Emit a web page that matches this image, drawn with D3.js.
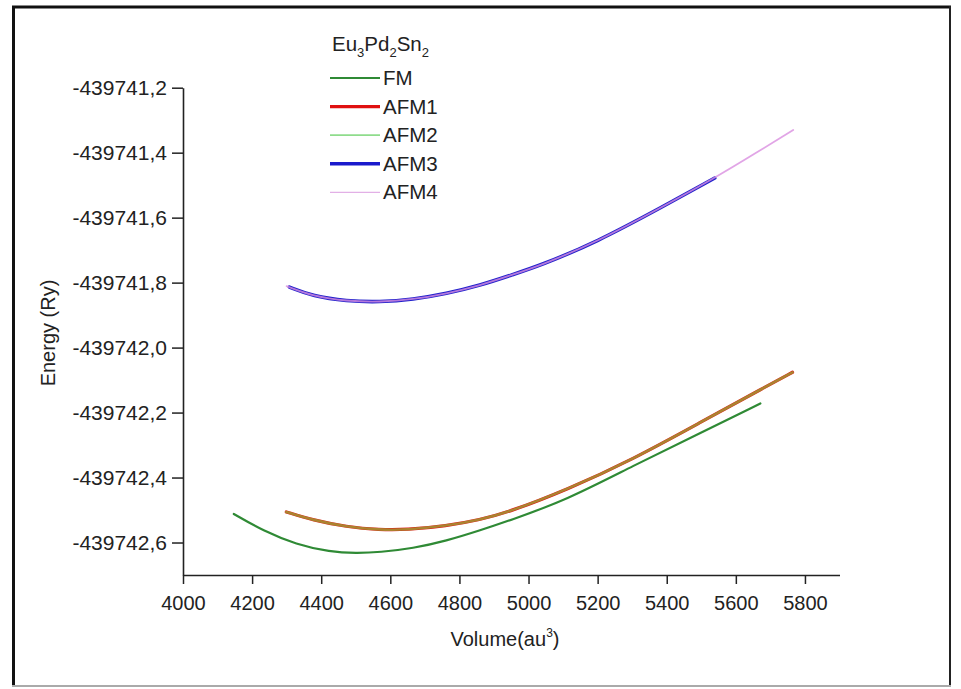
<!DOCTYPE html>
<html>
<head>
<meta charset="utf-8">
<script src="https://cdn.jsdelivr.net/npm/d3@7"></script>
<style>
  html, body { margin: 0; padding: 0; background: #fff; }
  svg { display: block; font-family: "Liberation Sans", Arial, sans-serif; }
</style>
</head>
<body>
<svg id="chart" width="961" height="689"></svg>
<script>
// ---- data ----
const xMajorTicks = [4000, 4200, 4400, 4600, 4800, 5000, 5200, 5400, 5600, 5800];
const yMajorTicks = [-439742.6, -439742.4, -439742.2, -439742.0, -439741.8, -439741.6, -439741.4, -439741.2];

const fmV = [4147, 4232, 4328, 4425, 4502, 4569, 4666, 4762, 4859, 4946, 5110, 5302, 5496, 5671];
const fmE = [-439742.512, -439742.564, -439742.606, -439742.629, -439742.633, -439742.630, -439742.618,
             -439742.595, -439742.563, -439742.532, -439742.469, -439742.364, -439742.264, -439742.172];

const afm1V = [4299, 4376, 4473, 4569, 4647, 4762, 4859, 4946, 5110, 5302, 5496, 5689, 5764];
const afm1E = [-439742.506, -439742.531, -439742.552, -439742.561, -439742.561, -439742.549, -439742.530,
               -439742.505, -439742.438, -439742.344, -439742.231, -439742.119, -439742.076];

const afm2V = [4299, 4376, 4473, 4569, 4647, 4762, 4859, 4946, 5110, 5302, 5496, 5689, 5764];
const afm2E = [-439742.506, -439742.531, -439742.552, -439742.561, -439742.561, -439742.549, -439742.530,
               -439742.505, -439742.438, -439742.344, -439742.231, -439742.119, -439742.076];

const afm3V = [4308, 4376, 4473, 4569, 4666, 4762, 4859, 4955, 5032, 5196, 5389, 5539];
const afm3E = [-439741.814, -439741.842, -439741.857, -439741.860, -439741.852, -439741.834,
               -439741.809, -439741.775, -439741.748, -439741.676, -439741.566, -439741.478];

const afm4V = [4300, 4376, 4473, 4569, 4666, 4762, 4859, 4955, 5032, 5196, 5389, 5539, 5660, 5766];
const afm4E = [-439741.811, -439741.842, -439741.857, -439741.860, -439741.852, -439741.834,
               -439741.809, -439741.775, -439741.748, -439741.676, -439741.566, -439741.478,
               -439741.400, -439741.330];

const seriesNames = ["FM", "AFM1", "AFM2", "AFM3", "AFM4"];

// ---- styles ----
const styles = {
  FM:   { color: "#2f8a35", width: 2.2, opacity: 1 },
  AFM1: { color: "#e01010", width: 3.2, opacity: 1 },
  AFM2: { color: "#8fc040", width: 2.6, opacity: 0.66 },
  AFM3: { color: "#2222cc", width: 3.6, opacity: 1 },
  AFM4: { color: "#d98ee0", width: 1.8, opacity: 0.8 }
};
const legendStyles = {
  FM:   { color: "#2f8a35", width: 2.2 },
  AFM1: { color: "#e01010", width: 3.2 },
  AFM2: { color: "#8fdc8c", width: 1.8 },
  AFM3: { color: "#1a1acc", width: 3.6 },
  AFM4: { color: "#e2b0e6", width: 1.4 }
};

const series = [
  { name: "FM",   v: fmV,   e: fmE },
  { name: "AFM1", v: afm1V, e: afm1E },
  { name: "AFM2", v: afm2V, e: afm2E },
  { name: "AFM3", v: afm3V, e: afm3E },
  { name: "AFM4", v: afm4V, e: afm4E }
];

const svg = d3.select("#chart");
const FONT = 20.5;

// outer frame
svg.append("line").attr("x1", 12).attr("y1", 7).attr("x2", 951).attr("y2", 7).attr("stroke", "#111").attr("stroke-width", 3);
svg.append("line").attr("x1", 13.5).attr("y1", 6).attr("x2", 13.5).attr("y2", 687).attr("stroke", "#111").attr("stroke-width", 3);
svg.append("line").attr("x1", 950).attr("y1", 6).attr("x2", 950).attr("y2", 687).attr("stroke", "#222").attr("stroke-width", 2);
svg.append("line").attr("x1", 12).attr("y1", 686).attr("x2", 951).attr("y2", 686).attr("stroke", "#aaa").attr("stroke-width", 2);

const x = d3.scaleLinear().domain([4000, 5900]).range([183, 839.5]);
const y = d3.scaleLinear().domain([-439742.7, -439741.2]).range([575, 87.7]);

const fmtY = v => d3.format(".1f")(v).replace(".", ",").replace("−", "-");
const fmtX = v => String(v);

// x axis
const xMinor = d3.range(4100, 6000, 200);
const gx = svg.append("g").attr("transform", `translate(0,${y.range()[0]})`);
gx.call(d3.axisBottom(x).tickValues(xMinor).tickFormat("").tickSizeInner(5).tickSizeOuter(0));
gx.call(d3.axisBottom(x).tickValues(xMajorTicks).tickFormat(fmtX).tickSizeInner(9).tickSizeOuter(0).tickPadding(12));
gx.selectAll("path.domain").attr("stroke", "#222").attr("stroke-width", 1.6);
gx.selectAll(".tick line").attr("stroke", "#222").attr("stroke-width", 1.5);
gx.selectAll("text").attr("font-size", 20).attr("fill", "#222").attr("font-family", "Liberation Sans, Arial, sans-serif");

// y axis
const yMinor = d3.range(0, 8).map(i => -439742.7 + i * 0.2);
const gy = svg.append("g").attr("transform", `translate(${x.range()[0]},0)`);
gy.call(d3.axisLeft(y).tickValues(yMinor).tickFormat("").tickSizeInner(5).tickSizeOuter(0));
gy.call(d3.axisLeft(y).tickValues(yMajorTicks).tickFormat(fmtY).tickSizeInner(11).tickSizeOuter(0).tickPadding(5));
gy.selectAll("path.domain").attr("stroke", "#222").attr("stroke-width", 1.6);
gy.selectAll(".tick line").attr("stroke", "#222").attr("stroke-width", 1.5);
gy.selectAll("text").attr("font-size", 21).attr("fill", "#222").attr("font-family", "Liberation Sans, Arial, sans-serif");

// axis titles
const xt = svg.append("text").attr("x", 505).attr("y", 646).attr("text-anchor", "middle")
  .attr("font-size", 20).attr("fill", "#222");
xt.append("tspan").text("Volume(au");
xt.append("tspan").attr("font-size", 12).attr("dy", -9).text("3");
xt.append("tspan").attr("dy", 9).text(")");

svg.append("text").attr("transform", "translate(55,333) rotate(-90)").attr("text-anchor", "middle")
  .attr("font-size", 20).attr("fill", "#222").text("Energy (Ry)");

// curves
const line = d3.line().x(d => x(d[0])).y(d => y(d[1])).curve(d3.curveBasis);
const plot = svg.append("g");
series.forEach(s => {
  const pts = s.v.map((v, i) => [v, s.e[i]]);
  const st = styles[s.name];
  plot.append("path").datum(pts).attr("d", line)
    .attr("fill", "none").attr("stroke", st.color).attr("stroke-width", st.width)
    .attr("stroke-opacity", st.opacity).attr("stroke-linecap", "round");
});

// legend
const lg = svg.append("g");
const title = lg.append("text").attr("x", 332).attr("y", 51).attr("font-size", FONT).attr("fill", "#222");
title.append("tspan").text("Eu");
title.append("tspan").attr("font-size", 13).attr("dy", 6).text("3");
title.append("tspan").attr("dy", -6).text("Pd");
title.append("tspan").attr("font-size", 13).attr("dy", 6).text("2");
title.append("tspan").attr("dy", -6).text("Sn");
title.append("tspan").attr("font-size", 13).attr("dy", 6).text("2");

seriesNames.forEach((name, i) => {
  const yy = 78 + i * 28.6;
  const st = legendStyles[name];
  lg.append("line").attr("x1", 330).attr("x2", 380).attr("y1", yy).attr("y2", yy)
    .attr("stroke", st.color).attr("stroke-width", st.width);
  lg.append("text").attr("x", 383).attr("y", yy + 7).attr("font-size", FONT).attr("fill", "#222").text(name);
});
</script>
</body>
</html>
